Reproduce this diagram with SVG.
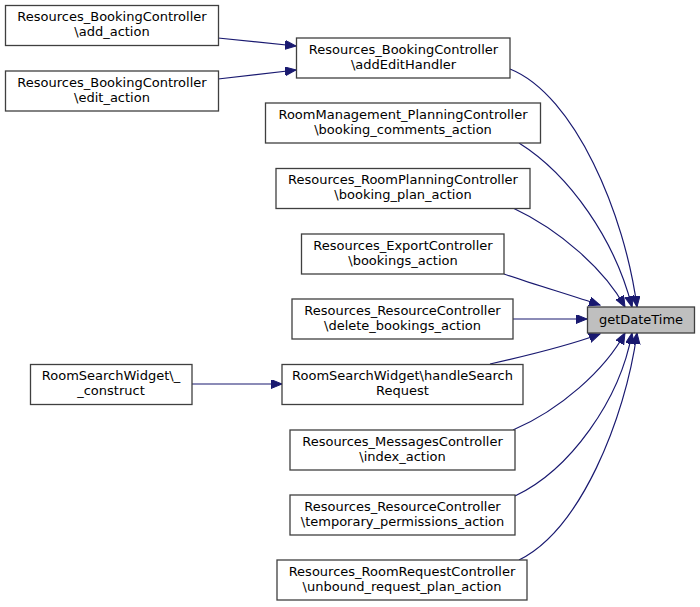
<svg xmlns="http://www.w3.org/2000/svg" width="700" height="607" viewBox="0 0 700 607">
<style>
.n rect{fill:#ffffff;stroke:#3f3f3f;stroke-width:1.3}
.n text{font-family:"DejaVu Sans","Liberation Sans",sans-serif;font-size:13px;fill:#000;text-anchor:middle}
#getDateTime rect{fill:#bfbfbf}
.e path{fill:none;stroke:#191970;stroke-width:1.2;marker-end:url(#ah)}
</style>
<defs>
<marker id="ah" markerUnits="userSpaceOnUse" markerWidth="12" markerHeight="10" refX="11" refY="4.5" orient="auto">
<path d="M0,0 L11,4.5 L0,9 Z" fill="#191970" stroke="#191970" stroke-width="1"/>
</marker>
</defs>
<rect width="700" height="607" fill="#ffffff"/>
<g class="e" id="edges">
<path d="M218,38 L296,46"/>
<path d="M218,79 L296,70"/>
<path d="M510,69 C575,95 625,215 637,307"/>
<path d="M519,143 C570,175 615,240 632,307"/>
<path d="M513,208 C560,230 605,270 625,307"/>
<path d="M504,274 C530,283 570,295 600,305"/>
<path d="M513,319 L587,319"/>
<path d="M192,384 L282,384"/>
<path d="M490,364 C530,355 570,345 600,334"/>
<path d="M513,430 C560,410 605,370 625,333"/>
<path d="M515,496 C570,470 620,400 632,333"/>
<path d="M519,560 C580,530 625,420 637,333"/>
</g>
<g class="n" id="add_action"><rect x="5.5" y="5.5" width="213" height="40"/><text x="112" y="21">Resources_BookingController</text><text x="112" y="36">\add_action</text></g>
<g class="n" id="edit_action"><rect x="5.5" y="71" width="213" height="40"/><text x="112" y="86.5">Resources_BookingController</text><text x="112" y="101.5">\edit_action</text></g>
<g class="n" id="addEditHandler"><rect x="296.5" y="38" width="213.5" height="40"/><text x="403.5" y="53.5">Resources_BookingController</text><text x="403.5" y="68.5">\addEditHandler</text></g>
<g class="n" id="booking_comments_action"><rect x="265.5" y="103" width="275" height="40"/><text x="403" y="118.5">RoomManagement_PlanningController</text><text x="403" y="133.5">\booking_comments_action</text></g>
<g class="n" id="booking_plan_action"><rect x="276" y="168.5" width="254" height="40"/><text x="403" y="184">Resources_RoomPlanningController</text><text x="403" y="199">\booking_plan_action</text></g>
<g class="n" id="bookings_action"><rect x="301.5" y="234" width="202.5" height="40"/><text x="403" y="249.5">Resources_ExportController</text><text x="403" y="264.5">\bookings_action</text></g>
<g class="n" id="delete_bookings_action"><rect x="292" y="299" width="221" height="40"/><text x="402.5" y="314.5">Resources_ResourceController</text><text x="402.5" y="329.5">\delete_bookings_action</text></g>
<g class="n" id="handleSearchRequest"><rect x="282" y="364.5" width="241" height="40"/><text x="402.5" y="380">RoomSearchWidget\handleSearch</text><text x="402.5" y="395">Request</text></g>
<g class="n" id="construct"><rect x="30.5" y="364.5" width="161.5" height="40"/><text x="111" y="380">RoomSearchWidget\_</text><text x="111" y="395">_construct</text></g>
<g class="n" id="index_action"><rect x="290" y="430" width="225" height="40"/><text x="402.5" y="445.5">Resources_MessagesController</text><text x="402.5" y="460.5">\index_action</text></g>
<g class="n" id="temporary_permissions_action"><rect x="290" y="495" width="225" height="40"/><text x="402.5" y="510.5">Resources_ResourceController</text><text x="402.5" y="525.5">\temporary_permissions_action</text></g>
<g class="n" id="unbound_request_plan_action"><rect x="277" y="560" width="250" height="40"/><text x="402" y="575.5">Resources_RoomRequestController</text><text x="402" y="590.5">\unbound_request_plan_action</text></g>
<g class="n" id="getDateTime"><rect x="587.5" y="307" width="107" height="26"/><text x="641" y="323.5">getDateTime</text></g>
</svg>
